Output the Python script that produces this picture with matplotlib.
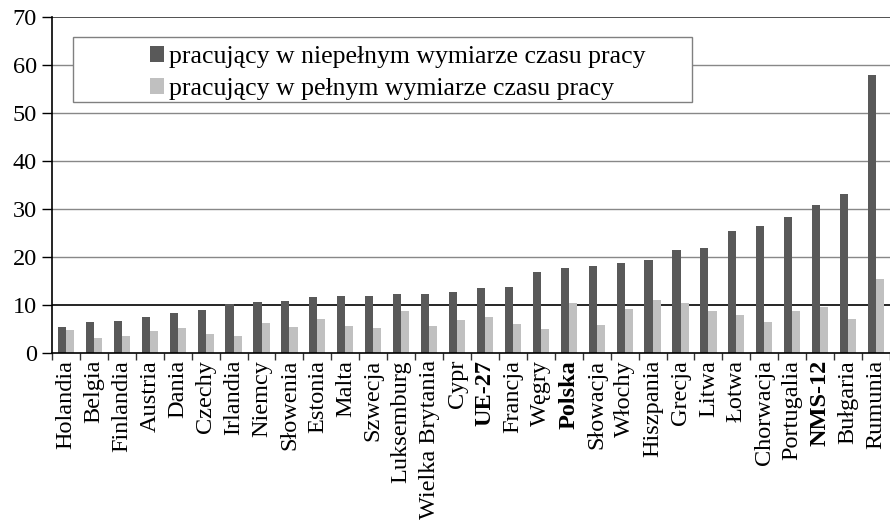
import matplotlib
matplotlib.use("Agg")
import matplotlib.pyplot as plt
from matplotlib.patches import Rectangle
import numpy as np

categories = ["Holandia", "Belgia", "Finlandia", "Austria", "Dania", "Czechy", "Irlandia",
              "Niemcy", "Słowenia", "Estonia", "Malta", "Szwecja", "Luksemburg",
              "Wielka Brytania", "Cypr", "UE-27", "Francja", "Węgry", "Polska", "Słowacja",
              "Włochy", "Hiszpania", "Grecja", "Litwa", "Łotwa", "Chorwacja", "Portugalia",
              "NMS-12", "Bułgaria", "Rumunia"]
part_time = [5.5, 6.5, 6.7, 7.6, 8.4, 9.0, 10.3, 10.6, 10.8, 11.6, 11.9, 11.9, 12.3, 12.3,
             12.7, 13.6, 13.8, 16.8, 17.8, 18.2, 18.8, 19.3, 21.5, 21.8, 25.4, 26.4, 28.4,
             30.8, 33.1, 58.0]
full_time = [4.7, 3.2, 3.5, 4.5, 5.2, 3.9, 3.6, 6.2, 5.5, 7.1, 5.6, 5.2, 8.7, 5.6,
             6.8, 7.6, 6.0, 5.0, 10.5, 5.9, 9.2, 11.1, 10.5, 8.7, 8.0, 6.4, 8.7,
             9.5, 7.1, 15.5]
bold_labels = ["UE-27", "Polska", "NMS-12"]
legend_labels = ["pracujący w niepełnym wymiarze czasu pracy",
                 "pracujący w pełnym wymiarze czasu pracy"]
yticks = [0, 10, 20, 30, 40, 50, 60, 70]

plt.rcParams['font.family'] = ['Liberation Serif', 'DejaVu Serif']
plt.rcParams['font.size'] = 17.5

fig = plt.figure(figsize=(8.9, 5.25), dpi=100)
ax = fig.add_axes([52/890, 172/525, 838/890, 336/525])

x = np.arange(len(categories))
w = 0.29
ax.bar(x - w/2, part_time, width=w, color="#595959", zorder=3, label=legend_labels[0])
ax.bar(x + w/2, full_time, width=w, color="#c0c0c0", zorder=3, label=legend_labels[1])

ax.set_xlim(-0.5, len(categories) - 0.5)
ax.set_ylim(0, 70)
ax.set_yticks(yticks)
ax.tick_params(axis='y', length=7, width=1, direction='out', labelsize=17.5, pad=4)

ax.set_xticks(x)
ax.set_xticklabels(categories, rotation=90, fontsize=17.5)
ax.tick_params(axis='x', which='major', length=0, pad=5)
ax.set_xticks(np.arange(-0.5, len(categories), 1), minor=True)
ax.tick_params(axis='x', which='minor', length=5, width=1, color="#333333")
for lbl in ax.get_xticklabels():
    if lbl.get_text() in bold_labels:
        lbl.set_fontweight('bold')

for v in yticks[1:]:
    if v == 10:
        c, lw = "black", 1.2
    elif v == 70:
        c, lw = "#333333", 1.2
    else:
        c, lw = "#888888", 1.0
    ax.axhline(v, color=c, lw=lw, zorder=1)

for s in ["top", "right"]:
    ax.spines[s].set_visible(False)
ax.spines["left"].set_linewidth(1.2)
ax.spines["bottom"].set_linewidth(1.2)
ax.spines["bottom"].set_zorder(4)

# legend box
x0 = (73 - 52) / 838
x1 = (692 - 52) / 838
yb = (353 - 102) / 336
yt = (353 - 37) / 336
ax.add_patch(Rectangle((x0, yb), x1 - x0, yt - yb, transform=ax.transAxes,
                       facecolor="white", edgecolor="#808080", lw=1.0, zorder=5))
leg = ax.legend(loc='upper left', bbox_to_anchor=((150 - 52) / 838, (353 - 46) / 336),
                frameon=False, fontsize=18.5, handlelength=0.55, handleheight=0.55,
                handletextpad=0.2, borderpad=0, borderaxespad=0, labelspacing=0.4)
leg.set_zorder(6)

fig.savefig("out.png", dpi=100)
